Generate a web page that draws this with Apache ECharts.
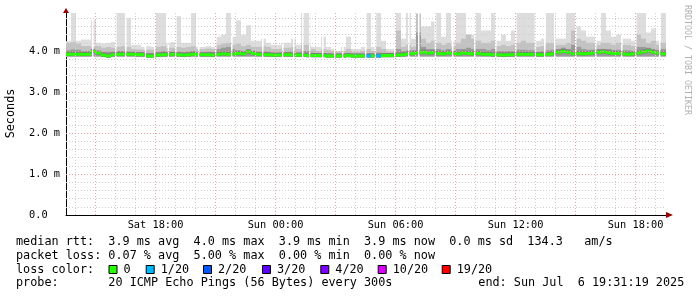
<!DOCTYPE html>
<html><head><meta charset="utf-8">
<script src="https://cdn.jsdelivr.net/npm/echarts@6/dist/echarts.min.js"></script>
<style>html,body{margin:0;padding:0;background:#fff}#c{width:697px;height:297px}</style>
</head><body><div id="c"></div>
<script>
// time in hours since Sat 00:00
const startHour = 13.5219;   // Sat 13:31:19
const endHour = 43.5219;     // Sun 19:31:19
const colHours = 0.25;       // one column = 15 min
const gapLen = 5 / 60;       // one missed 300s probe
const xLabelHours = [18, 24, 30, 36, 42];
const yLabelValues = [0, 1, 2, 3, 4];
const yMax = 4.927;

// RTT in ms
const maxRtt = [
 4.24,4.95,4.25,4.28,4.28,4.76,4.2,4.18,4.2,4.22,
 4.95,4.95,4.8,4.15,4.15,4.1,4.12,4.1,4.95,4.95,
 4.2,4.22,4.85,4.2,4.2,4.95,4.1,4.1,4.12,4.1,
 4.35,4.4,4.95,4.35,4.75,4.4,4.63,4.25,4.25,4.3,
 4.2,4.15,4.15,4.2,4.2,4.3,4.15,4.95,4.95,4.1,
 4.1,4.35,4.1,4.05,4.0,4.1,4.35,4.05,4.05,4.1,
 4.95,4.1,4.95,4.25,4.05,4.05,4.95,4.3,4.95,4.3,
 4.95,4.6,4.6,4.72,4.95,4.35,4.95,4.25,4.95,4.95,
 4.4,4.4,4.95,4.5,4.5,4.95,4.25,4.4,4.25,4.5,
 4.95,4.95,4.95,4.95,4.25,4.3,4.95,4.95,4.3,4.3,
 4.95,4.95,4.6,4.5,4.35,4.35,4.25,4.95,4.5,4.35,
 4.4,4.3,4.3,4.25,4.95,4.95,4.45,4.55,4.25,4.95];
const bandMid = [
 4.2,4.22,4.18,4.12,4.12,4.1,4.12,4.08,4.1,4.08,
 4.1,4.12,4.1,4.05,4.04,4.03,4.03,4.03,4.1,4.12,
 4.08,4.08,4.1,4.08,4.1,4.12,4.05,4.05,4.06,4.05,
 4.15,4.18,4.2,4.15,4.18,4.12,4.15,4.1,4.1,4.12,
 4.1,4.05,4.05,4.08,4.08,4.1,4.05,4.15,4.15,4.05,
 4.0,4.05,4.02,4.0,3.98,4.0,4.05,3.98,3.98,4.0,
 4.05,4.0,4.1,4.05,3.98,3.98,4.5,4.1,4.15,4.1,
 4.9,4.3,4.2,4.25,4.2,4.15,4.2,4.12,4.2,4.3,
 4.4,4.3,4.25,4.2,4.2,4.25,4.12,4.15,4.12,4.15,
 4.2,4.25,4.2,4.2,4.1,4.12,4.2,4.2,4.15,4.15,
 4.2,4.5,4.3,4.25,4.2,4.2,4.15,4.2,4.2,4.15,
 4.2,4.15,4.15,4.12,4.4,4.3,4.2,4.25,4.15,4.2];
const bandDark = [
 4.02,4.04,4.03,4.0,4.0,4.02,4.0,3.98,3.98,3.98,
 4.0,4.0,3.98,3.97,3.96,3.96,3.95,3.95,3.98,4.0,
 3.98,3.98,3.98,3.97,3.98,4.0,3.96,3.96,3.98,3.98,
 4.05,4.08,4.1,4.05,4.02,4.0,4.03,4.0,3.98,4.0,
 3.98,3.96,3.96,3.97,3.98,3.98,3.96,4.0,4.0,3.96,
 3.94,3.95,3.94,3.93,3.93,3.94,3.95,3.93,3.93,3.93,
 3.95,3.94,3.96,3.95,3.93,3.93,4.05,4.0,4.02,4.02,
 4.45,4.1,4.05,4.05,4.05,4.02,4.05,4.0,4.05,4.05,
 4.08,4.05,4.05,4.05,4.02,4.05,4.0,4.0,4.0,4.0,
 4.03,4.03,4.02,4.02,3.98,4.0,4.02,4.03,4.05,4.08,
 4.05,4.15,4.1,4.05,4.03,4.03,4.05,4.05,4.05,4.03,
 4.03,4.02,4.02,4.0,4.1,4.1,4.08,4.05,4.03,4.05];
const medianRtt = [
 3.92,3.92,3.92,3.92,3.92,3.99,3.95,3.9,3.88,3.91,
 3.92,3.92,3.92,3.92,3.91,3.91,3.88,3.88,3.9,3.91,
 3.91,3.92,3.91,3.9,3.91,3.92,3.91,3.91,3.91,3.9,
 3.92,3.93,3.92,3.93,3.94,3.93,3.98,3.94,3.92,3.91,
 3.91,3.9,3.9,3.91,3.91,3.9,3.9,3.9,3.89,3.89,
 3.89,3.89,3.88,3.88,3.88,3.88,3.89,3.88,3.88,3.88,
 3.88,3.88,3.88,3.89,3.89,3.89,3.9,3.91,3.93,3.94,
 3.96,3.97,3.95,3.96,3.94,3.93,3.95,3.94,3.93,3.95,
 3.94,3.93,3.94,3.92,3.92,3.91,3.91,3.9,3.91,3.91,
 3.92,3.92,3.92,3.92,3.91,3.91,3.92,3.93,3.97,3.99,
 3.97,3.93,3.94,3.93,3.94,3.95,3.97,3.98,3.96,3.94,
 3.94,3.93,3.92,3.93,3.95,3.98,4.0,3.97,3.95,3.93];
// index into lossColors (0 = no loss, 1 = 1/20)
const lossLevel = [
 0,0,0,0,0,0,0,0,0,0, 0,0,0,0,0,0,0,0,0,0,
 0,0,0,0,0,0,0,0,0,0, 0,0,0,0,0,0,0,0,0,0,
 0,0,0,0,0,0,0,0,0,0, 0,0,0,0,0,0,0,0,0,0,
 1,0,1,0,0,0,0,0,0,0, 0,0,0,0,0,0,0,0,0,0,
 0,0,0,0,0,0,0,0,0,0, 0,0,0,0,0,0,0,0,0,0,
 0,0,0,0,0,0,0,0,0,0, 0,0,0,0,0,0,0,0,0,0];
// missed probes (hours)
const gapHours = [14.82,15.97,16.47,17.45,17.92,18.6,18.97,20.12,20.97,21.77,
 23.32,24.32,24.87,25.32,25.67,26.32,26.92,27.32,28.47,28.95,29.92,30.62,
 31.12,31.95,32.82,33.92,34.97,35.97,36.95,37.42,37.92,38.97,39.97,41.27,41.97,43.17];
const bandLow = [3.85, 3.86, 3.87];
const bandColors = ['#dddddd', '#c2c2c2', '#9a9a9a'];

const lossLabels = ['0', '1/20', '2/20', '3/20', '4/20', '10/20', '19/20'];
const lossColors = ['#26ff00', '#00b8ff', '#0059ff', '#5e00ff', '#7e00ff', '#dd00ff', '#ff0000'];
const legendLines = [
 'median rtt:  3.9 ms avg  4.0 ms max  3.9 ms min  3.9 ms now  0.0 ms sd  134.3   am/s',
 'packet loss: 0.07 % avg  5.00 % max  0.00 % min  0.00 % now',
 'loss color:',
 'probe:       20 ICMP Echo Pings (56 Bytes) every 300s'
];
const endText = 'end: Sun Jul  6 19:31:19 2025';

const rows = maxRtt.map((v, i) => [startHour + i * colHours, startHour + (i + 1) * colHours,
  v, bandMid[i], bandDark[i], medianRtt[i], lossLevel[i]]);

function splitByGaps(t0, t1) {
  let segs = [[t0, t1]];
  gapHours.forEach(g => {
    const g1 = g + gapLen, out = [];
    segs.forEach(([a, b]) => {
      if (g1 <= a || g >= b) { out.push([a, b]); return; }
      if (g > a) out.push([a, g]);
      if (g1 < b) out.push([g1, b]);
    });
    segs = out;
  });
  return segs;
}

const mono = '"DejaVu Sans Mono", monospace';
const minorStyle = { color: '#cdcdcd', type: [1, 2], width: 1 };
const majorStyle = { color: '#e6a4a4', type: [1, 2], width: 1 };
const gridLines = [];
for (let h = Math.ceil(startHour); h <= Math.floor(endHour); h++)
  gridLines.push({ xAxis: h, lineStyle: h % 3 === 0 ? majorStyle : minorStyle });
for (let k = 1; k * 0.2 < yMax; k++) {
  const v = Math.round(k * 2) / 10;
  gridLines.push({ yAxis: v, lineStyle: k % 5 === 0 ? majorStyle : minorStyle });
}

const chart = echarts.init(document.getElementById('c'), null, { renderer: 'canvas' });
const legendGraphics = [];
const ys = [241.5, 255.5, 269.5, 283.4];
legendLines.forEach((t, i) => legendGraphics.push({ type: 'text', x: 16, y: ys[i],
  style: { text: t, font: '11.8px ' + mono, fill: '#000', textVerticalAlign: 'middle', verticalAlign: 'middle' } }));
legendGraphics.push({ type: 'text', x: 478.3, y: ys[3],
  style: { text: endText, font: '11.8px ' + mono, fill: '#000', textVerticalAlign: 'middle', verticalAlign: 'middle' } });
const boxX = [108.5, 145.7, 203, 262, 320.3, 377.7, 441.7];
lossLabels.forEach((l, i) => {
  legendGraphics.push({ type: 'rect', shape: { x: boxX[i] + 0.5, y: 265.5, width: 8, height: 8 },
    style: { fill: lossColors[i], stroke: '#000', lineWidth: 1 } });
  legendGraphics.push({ type: 'text', x: boxX[i] + 15, y: ys[2],
    style: { text: l, font: '11.8px ' + mono, fill: '#000', textVerticalAlign: 'middle', verticalAlign: 'middle' } });
});
legendGraphics.push({ type: 'text', x: 11, y: 113.5, rotation: Math.PI / 2,
  style: { text: 'Seconds', font: '11.8px ' + mono, fill: '#000', textAlign: 'center', align: 'center',
    textVerticalAlign: 'middle', verticalAlign: 'middle' } });
legendGraphics.push({ type: 'text', x: 687, y: 60, rotation: -Math.PI / 2,
  style: { text: 'RRDTOOL / TOBI OETIKER', font: '8.3px ' + mono, fill: '#b0b0b0', textAlign: 'center', align: 'center',
    textVerticalAlign: 'middle', verticalAlign: 'middle' } });

chart.setOption({
  animation: false,
  backgroundColor: '#fff',
  grid: { left: 66, right: 31, top: 13, bottom: 82 },
  xAxis: {
    type: 'value', min: startHour, max: endHour,
    axisLine: { lineStyle: { color: '#000', width: 1 } },
    axisTick: { show: false },
    splitLine: { show: false },
    axisLabel: {
      customValues: xLabelHours, margin: 5, color: '#000', fontFamily: mono, fontSize: 10.3,
      formatter: v => (v < 24 ? 'Sat ' : 'Sun ') + String(Math.round(v) % 24).padStart(2, '0') + ':00'
    }
  },
  yAxis: {
    type: 'value', min: 0, max: yMax, interval: 1,
    axisLine: { show: true, lineStyle: { color: '#000', width: 1 } },
    axisTick: { show: false },
    splitLine: { show: false },
    axisLabel: {
      customValues: yLabelValues, margin: 6, color: '#000', fontFamily: mono, fontSize: 10.3,
      formatter: v => v === 0 ? '0.0  ' : v.toFixed(1) + ' m'
    }
  },
  graphic: legendGraphics,
  series: [
    {
      type: 'custom', z: 1, clip: true, data: rows, encode: { x: [0, 1], y: [2] },
      renderItem: (params, api) => {
        const t0 = api.value(0), t1 = api.value(1);
        const tops = [api.value(2), api.value(3), api.value(4)];
        const med = api.value(5);
        const children = [];
        splitByGaps(t0, t1).forEach(([a, b]) => {
          const xa = api.coord([a, 0])[0], xb = api.coord([b, 0])[0];
          tops.forEach((v, k) => {
            const yt = api.coord([a, Math.min(v, yMax)])[1];
            const yb = api.coord([a, bandLow[k]])[1];
            children.push({ type: 'rect', shape: { x: xa, y: yt, width: xb - xa, height: yb - yt },
              style: { fill: bandColors[k] } });
          });
          const yh = api.coord([a, med + 0.06])[1], yl = api.coord([a, med - 0.045])[1];
          children.push({ type: 'rect', shape: { x: xa, y: yh, width: xb - xa, height: yl - yh },
            style: { fill: '#7c7c7c' } });
        });
        return { type: 'group', children };
      }
    },
    {
      type: 'line', z: 2, data: [], silent: true,
      markLine: { silent: true, symbol: ['none', 'none'], label: { show: false }, animation: false, data: gridLines },
      markPoint: {
        silent: true, animation: false, label: { show: false },
        data: [
          { coord: [endHour, 0], symbol: 'triangle', symbolSize: [6, 7], symbolRotate: -90, symbolOffset: [3.5, 0], itemStyle: { color: '#990000' } },
          { coord: [startHour, yMax], symbol: 'triangle', symbolSize: [6, 5], symbolOffset: [0, -2.5], itemStyle: { color: '#990000' } }
        ]
      }
    },
    {
      type: 'custom', z: 3, clip: true, data: rows, encode: { x: [0, 1], y: [5] },
      renderItem: (params, api) => {
        const t0 = api.value(0), t1 = api.value(1), med = api.value(5), loss = api.value(6);
        const children = [];
        splitByGaps(t0, t1).forEach(([a, b]) => {
          const xa = api.coord([a, 0])[0], xb = api.coord([b, 0])[0];
          const y = api.coord([a, med])[1];
          children.push({ type: 'rect', shape: { x: xa, y: y - 1.5, width: xb - xa, height: 3 },
            style: { fill: lossColors[loss] } });
        });
        return { type: 'group', children };
      }
    }
  ]
});
</script></body></html>
